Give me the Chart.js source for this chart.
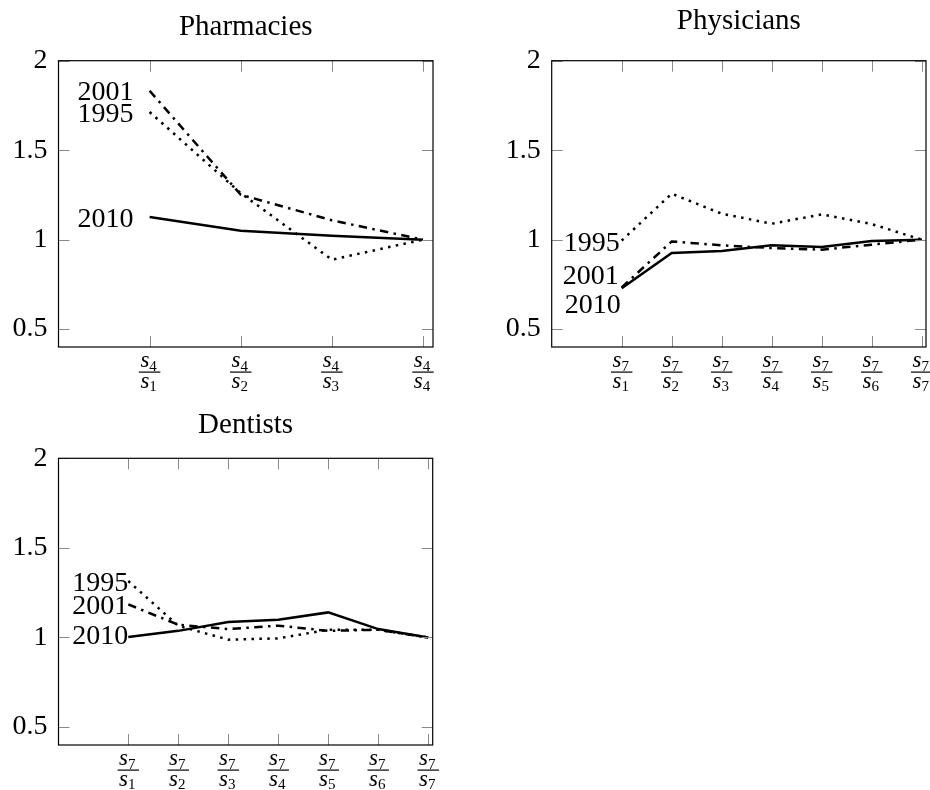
<!DOCTYPE html>
<html>
<head>
<meta charset="utf-8">
<script src="https://cdn.jsdelivr.net/npm/chart.js@4.4.1/dist/chart.umd.min.js"></script>
<style>
  body { margin: 0; background: #fff; }
  #wrap { position: relative; width: 930px; height: 790px; overflow: hidden; }
  canvas { position: absolute; }
</style>
</head>
<body>
<div id="wrap">
  <canvas id="pharm" width="465" height="400" style="left:0;top:0"></canvas>
  <canvas id="phys" width="465" height="400" style="left:465px;top:0"></canvas>
  <canvas id="dent" width="465" height="390" style="left:0;top:400px"></canvas>
</div>
<script>
// данные
const years = ['1995', '2001', '2010'];
const yTicks = [0.5, 1, 1.5, 2];

// Pharmacies: s4/s1 ... s4/s4
const pharmTicks = [['4', '1'], ['4', '2'], ['4', '3'], ['4', '4']];
const pharm1995 = [1.713, 1.26, 0.888, 1.0];
const pharm2001 = [1.832, 1.251, 1.108, 1.0];
const pharm2010 = [1.126, 1.05, 1.022, 1.0];

// Physicians: s7/s1 ... s7/s7
const physTicks = [['7', '1'], ['7', '2'], ['7', '3'], ['7', '4'], ['7', '5'], ['7', '6'], ['7', '7']];
const phys1995 = [0.995, 1.257, 1.145, 1.089, 1.141, 1.087, 1.0];
const phys2001 = [0.733, 0.99, 0.968, 0.953, 0.944, 0.972, 1.0];
const phys2010 = [0.728, 0.926, 0.937, 0.968, 0.959, 0.992, 1.0];

// Dentists
const dentTicks = [['7', '1'], ['7', '2'], ['7', '3'], ['7', '4'], ['7', '5'], ['7', '6'], ['7', '7']];
const dent1995 = [1.315, 1.065, 0.988, 0.995, 1.043, 1.043, 1.0];
const dent2001 = [1.185, 1.071, 1.047, 1.066, 1.037, 1.043, 1.0];
const dent2010 = [1.003, 1.037, 1.086, 1.099, 1.14, 1.047, 1.0];

// стили линий: dotted, dash-dot, solid
const lineDash = [[2.5, 5.4], [8.4, 5.4, 2.5, 5.4], []];
const serif = '"Liberation Serif", "Times New Roman", serif';

function drawFrac(c, x, bottom, num, den) {
    const sFont = 'italic 23px ' + serif;
    const dFont = '15px ' + serif;
    c.font = sFont;
    const ws = c.measureText('s').width;
    c.font = dFont;
    const wn = c.measureText(num).width;
    const wd = c.measureText(den).width;
    const barY = bottom + 25;
    const barW = Math.max(ws + wn, ws + wd) + 5;
    c.fillStyle = '#000';
    c.textAlign = 'left';
    c.textBaseline = 'alphabetic';

    let lx = x - 1 - (ws + wn) / 2;
    c.font = sFont; c.fillText('s', lx, barY - 5);
    c.font = dFont; c.fillText(num, lx + ws, barY - 1.5);

    c.fillRect(x - barW / 2, barY - 0.5, barW, 1.2);

    lx = x - 1 - (ws + wd) / 2;
    c.font = sFont; c.fillText('s', lx, barY + 15.5);
    c.font = dFont; c.fillText(den, lx + ws, barY + 19);
}

function makeChart(id, o) {
    const ctx = document.getElementById(id).getContext('2d');

    const datasets = years.map((yr, k) => ({
        label: yr,
        data: o.series[k].map((v, i) => ({ x: i + 1, y: v })),
        borderColor: '#000',
        borderWidth: 2.5,
        borderDash: lineDash[k],
        borderCapStyle: 'butt',
        pointRadius: 0,
        tension: 0,
        fill: false,
        order: 2 - k
    }));

    // рамка, внутренние засечки, заголовок, дроби и подписи годов
    const pgfLook = {
        id: 'pgfLook',
        afterDraw(chart) {
            const c = chart.ctx, a = chart.chartArea;
            const xs = chart.scales.x, ys = chart.scales.y;
            c.save();

            c.strokeStyle = '#8a8a8a';
            c.lineWidth = 1;
            c.beginPath();
            o.ticks.forEach((t, i) => {
                const px = Math.round(xs.getPixelForValue(i + 1)) + 0.5;
                c.moveTo(px, a.bottom); c.lineTo(px, a.bottom - 11);
                c.moveTo(px, a.top); c.lineTo(px, a.top + 11);
            });
            yTicks.forEach(v => {
                const py = Math.round(ys.getPixelForValue(v)) + 0.5;
                c.moveTo(a.left, py); c.lineTo(a.left + 11, py);
                c.moveTo(a.right, py); c.lineTo(a.right - 11, py);
            });
            c.stroke();

            c.strokeStyle = '#000';
            c.lineWidth = 1.2;
            c.strokeRect(a.left, a.top, a.right - a.left, a.bottom - a.top);

            c.fillStyle = '#000';
            c.font = '29px ' + serif;
            c.textAlign = 'center';
            c.textBaseline = 'alphabetic';
            c.fillText(o.title, (a.left + a.right) / 2, a.top - o.titleGap);

            o.ticks.forEach((t, i) => {
                drawFrac(c, xs.getPixelForValue(i + 1), a.bottom, t[0], t[1]);
            });

            c.font = '28px ' + serif;
            c.textAlign = 'right';
            c.textBaseline = 'alphabetic';
            years.forEach((yr, k) => {
                const px = xs.getPixelForValue(1) + o.labelShift[k][0];
                const py = ys.getPixelForValue(o.series[k][0]) + o.labelShift[k][1] + 9.5;
                c.fillText(yr, px, py);
            });

            c.restore();
        }
    };

    return new Chart(ctx, {
        type: 'line',
        data: { datasets: datasets },
        options: {
            responsive: false,
            animation: false,
            layout: { padding: { top: o.padTop, right: o.padRight, left: 0, bottom: 0 } },
            plugins: { legend: { display: false }, tooltip: { enabled: false } },
            scales: {
                x: {
                    type: 'linear',
                    min: o.xMin,
                    max: o.xMax,
                    grid: { display: false, drawTicks: false },
                    border: { display: false },
                    ticks: { display: false },
                    afterFit: s => { s.height = o.xAxisH; }
                },
                y: {
                    type: 'linear',
                    min: 0.4,
                    max: 2,
                    grid: { display: false, drawTicks: false },
                    border: { display: false },
                    afterBuildTicks: s => { s.ticks = yTicks.map(v => ({ value: v })); },
                    ticks: {
                        padding: 11,
                        color: '#000',
                        font: { family: serif, size: 28 },
                        callback: v => String(v)
                    },
                    afterFit: s => { s.width = o.yAxisW; }
                }
            }
        },
        plugins: [pgfLook]
    });
}

makeChart('pharm', {
    title: 'Pharmacies', titleGap: 25.7,
    series: [pharm1995, pharm2001, pharm2010], ticks: pharmTicks,
    xMin: 0, xMax: 4.11,
    yAxisW: 58.5, xAxisH: 53, padTop: 60.7, padRight: 32,
    labelShift: [[-16, 0], [-16, 0], [-16, 0]]
});

makeChart('phys', {
    title: 'Physicians', titleGap: 31.4,
    series: [phys1995, phys2001, phys2010], ticks: physTicks,
    xMin: -0.4, xMax: 7.086,
    yAxisW: 86.7, xAxisH: 53, padTop: 60.7, padRight: 4,
    labelShift: [[-2, 1], [-3, -13], [-1, 15]]
});

makeChart('dent', {
    title: 'Dentists', titleGap: 25,
    series: [dent1995, dent2001, dent2010], ticks: dentTicks,
    xMin: -0.396, xMax: 7.09,
    yAxisW: 58.5, xAxisH: 45, padTop: 58.3, padRight: 32.3,
    labelShift: [[0, 0], [0, 0], [0, -2]]
});
</script>
</body>
</html>
